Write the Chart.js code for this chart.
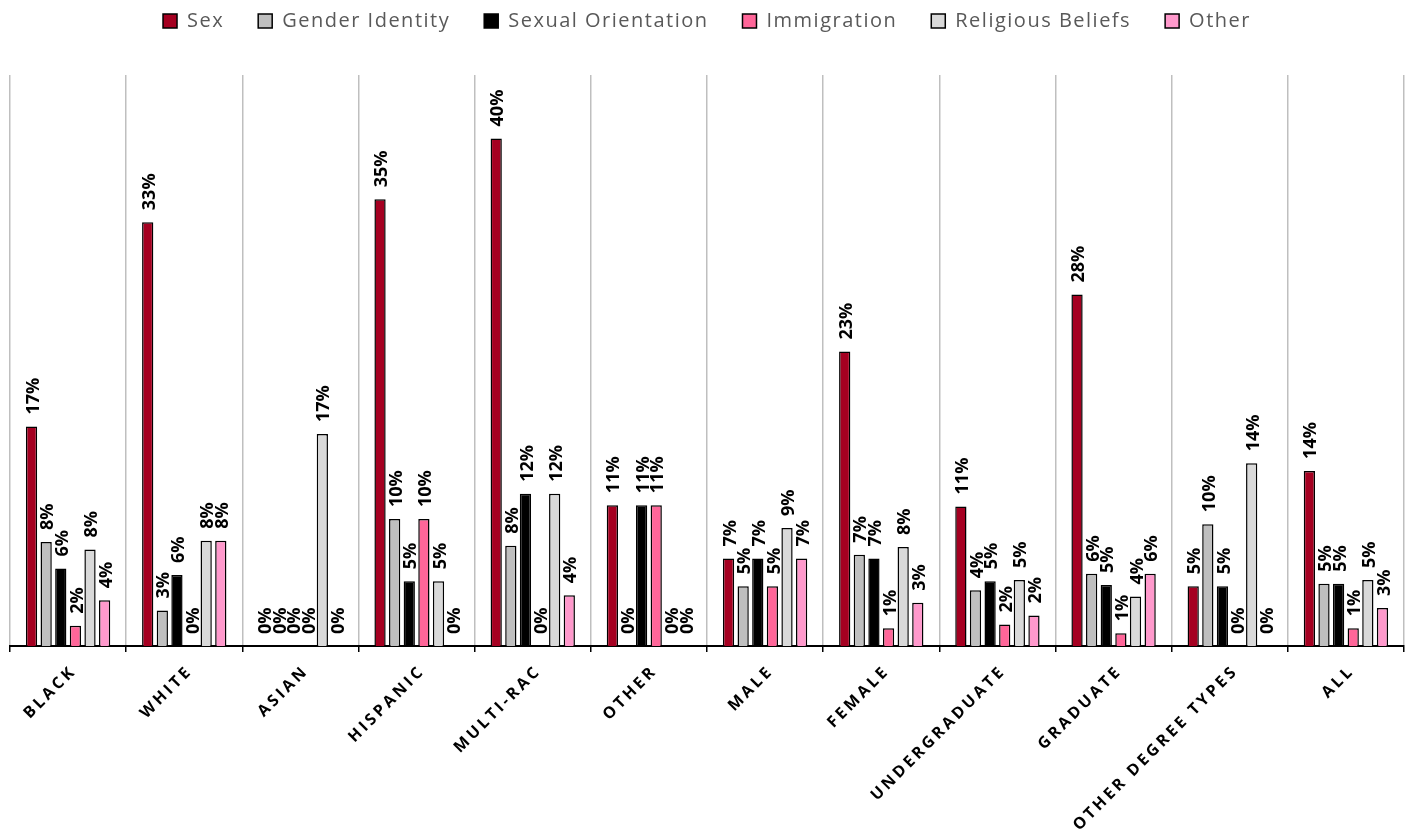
<!DOCTYPE html>
<html>
<head>
<meta charset="utf-8">
<title>Bias incidents by group</title>
<script src="https://cdn.jsdelivr.net/npm/chart.js@4.4.1/dist/chart.umd.min.js"></script>
<style>
  html, body { margin: 0; padding: 0; background: #fff; }
  #wrap { width: 1406px; height: 833px; }
</style>
</head>
<body>
<div id="wrap"><canvas id="biasChart" width="1406" height="833"></canvas></div>
<script>
// --- Data (percent of respondents) ---
const categories = ['BLACK', 'WHITE', 'ASIAN', 'HISPANIC', 'MULTI-RAC', 'OTHER',
  'MALE', 'FEMALE', 'UNDERGRADUATE', 'GRADUATE', 'OTHER DEGREE TYPES', 'ALL'];

const sexValues         = [17.3, 33.4, 0, 35.2, 40.0, 11.1, 6.9, 23.2, 11.0, 27.7, 4.7, 13.8];
const genderValues      = [8.2, 2.8, 0, 10.0, 7.9, 0, 4.7, 7.2, 4.4, 5.7, 9.6, 4.9];
const orientationValues = [6.1, 5.6, 0, 5.1, 12.0, 11.1, 6.9, 6.9, 5.1, 4.8, 4.7, 4.9];
const immigrationValues = [1.6, 0, 0, 10.0, 0, 11.1, 4.7, 1.4, 1.7, 1.0, 0, 1.4];
const religionValues    = [7.6, 8.3, 16.7, 5.1, 12.0, 0, 9.3, 7.8, 5.2, 3.9, 14.4, 5.2];
const otherValues       = [3.6, 8.3, 0, 0, 4.0, 0, 6.9, 3.4, 2.4, 5.7, 0, 3.0];

const yMax = 45;

// --- Plugins ---
// legend text in the original is slightly letter-spaced
function setLegendSpacing(chart) {
    chart.ctx.letterSpacing = '1.5px';
}

// leaves a gap between the legend and the plot
const legendGap = {
    id: 'legendGap',
    beforeUpdate(chart) {
        const legend = chart.legend;
        if (legend && !legend._gapPatched) {
            const fit = legend.fit;
            legend.fit = function () {
                fit.call(this);
                this.height += 34;
            };
            legend._gapPatched = true;
        }
    },
    beforeLayout: setLegendSpacing,
    beforeDraw: setLegendSpacing
};

// rotated percent labels above each bar
const barLabels = {
    id: 'barLabels',
    afterDatasetsDraw(chart) {
        const ctx = chart.ctx;
        ctx.save();
        ctx.letterSpacing = '0px';
        ctx.font = 'bold 18px "Open Sans"';
        ctx.fillStyle = '#000';
        ctx.textAlign = 'left';
        ctx.textBaseline = 'middle';
        chart.data.datasets.forEach((ds, i) => {
            chart.getDatasetMeta(i).data.forEach((bar, j) => {
                ctx.save();
                ctx.translate(bar.x + 2, bar.y - 12);
                ctx.rotate(-Math.PI / 2);
                ctx.fillText(Math.round(ds.data[j]) + '%', 0, 0);
                ctx.restore();
            });
        });
        ctx.restore();
    }
};

// spaced, 45 degree category labels under the axis
const categoryLabels = {
    id: 'categoryLabels',
    afterDraw(chart) {
        const ctx = chart.ctx;
        const xScale = chart.scales.x;
        const spacing = 3.1;
        ctx.save();
        ctx.letterSpacing = spacing + 'px';
        ctx.font = 'bold 16px "Open Sans"';
        ctx.fillStyle = '#000';
        ctx.textAlign = 'right';
        ctx.textBaseline = 'top';
        chart.data.labels.forEach((label, i) => {
            const x = xScale.getPixelForValue(i);
            ctx.save();
            ctx.translate(x - 2, xScale.top + 19);
            ctx.rotate(-Math.PI / 4);
            ctx.fillText(label, spacing, 0);
            ctx.restore();
        });
        ctx.restore();
    }
};

// --- Chart ---
Chart.defaults.font.family = '"Open Sans", "DejaVu Sans", sans-serif';

const barStyle = { borderColor: '#000000', borderWidth: 1.5 };

new Chart(document.getElementById('biasChart'), {
    type: 'bar',
    data: {
        labels: categories,
        datasets: [
            { label: 'Sex', data: sexValues, backgroundColor: '#A50021', ...barStyle },
            { label: 'Gender Identity', data: genderValues, backgroundColor: '#BFBFBF', ...barStyle },
            { label: 'Sexual Orientation', data: orientationValues, backgroundColor: '#000000', ...barStyle },
            { label: 'Immigration', data: immigrationValues, backgroundColor: '#FF6699', ...barStyle },
            { label: 'Religious Beliefs', data: religionValues, backgroundColor: '#D9D9D9', ...barStyle },
            { label: 'Other', data: otherValues, backgroundColor: '#FF99CC', ...barStyle }
        ]
    },
    options: {
        responsive: false,
        animation: false,
        categoryPercentage: 0.755,
        barPercentage: 0.77,
        layout: { padding: { top: -23, left: 10, right: 2, bottom: 181 } },
        scales: {
            x: {
                offset: true,
                grid: {
                    offset: true,
                    color: '#BFBFBF',
                    lineWidth: 1.5,
                    tickColor: '#000000',
                    tickLength: 6,
                    tickWidth: 1.5
                },
                border: { display: true, color: '#000000', width: 2 },
                ticks: { display: false }
            },
            y: {
                display: false,
                min: 0,
                max: yMax
            }
        },
        plugins: {
            legend: {
                position: 'top',
                labels: {
                    color: '#595959',
                    font: { size: 20 },
                    boxWidth: 14,
                    boxHeight: 14,
                    padding: 34
                }
            },
            tooltip: { enabled: false }
        }
    },
    plugins: [legendGap, barLabels, categoryLabels]
});
</script>
</body>
</html>
